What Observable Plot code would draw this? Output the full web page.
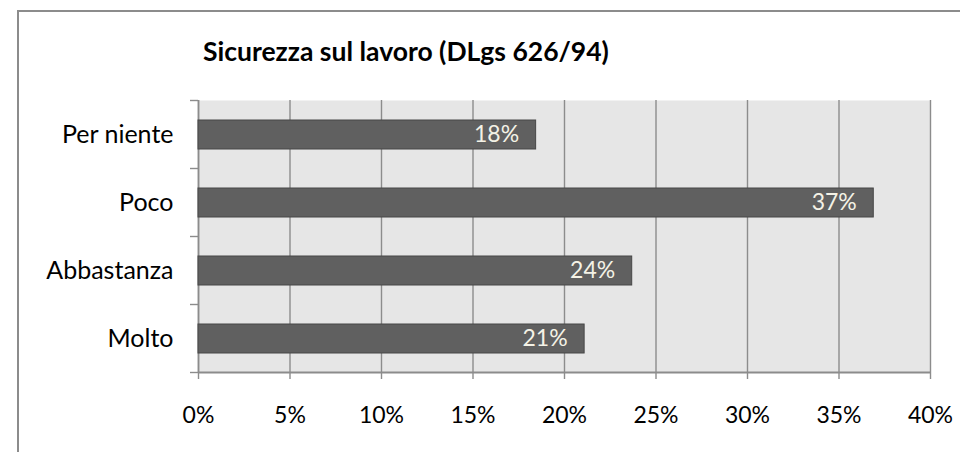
<!DOCTYPE html>
<html><head><meta charset="utf-8">
<script src="https://cdn.jsdelivr.net/npm/d3@7"></script>
<script src="https://cdn.jsdelivr.net/npm/@observablehq/plot@0.6"></script>
<style>
body{margin:0;background:#fff;}
#wrap{position:relative;width:960px;height:452px;overflow:hidden;font-family:Lato,"Open Sans",sans-serif;}
#border{position:absolute;left:17px;top:10px;width:1200px;height:1200px;border-left:2px solid #8c8c8c;border-top:2px solid #8c8c8c;}
#title{position:absolute;left:203px;top:36px;font-weight:bold;font-size:26.5px;line-height:1.2;color:#000;white-space:nowrap;}
#chart{position:absolute;left:0;top:0;}
</style></head>
<body>
<div id="wrap"><div id="border"></div><div id="title">Sicurezza sul lavoro (DLgs 626/94)</div><div id="chart"></div></div>
<script>
const categories = ["Per niente", "Poco", "Abbastanza", "Molto"];
const values = [18.45, 36.9, 23.7, 21.1];
const labels = ["18%", "37%", "24%", "21%"];
const xTicks = [0, 5, 10, 15, 20, 25, 30, 35, 40];

const data = categories.map((c, i) => ({cat: c, v: values[i], label: labels[i]}));
const gridColor = "#8c8c8c";

const plot = Plot.plot({
  width: 960,
  height: 452,
  marginLeft: 198,
  marginRight: 30,
  marginTop: 100,
  marginBottom: 80,
  style: {fontFamily: "Lato, 'Open Sans', sans-serif", fontSize: "23px", background: "transparent", color: "#000"},
  x: {domain: [0, 40], ticks: xTicks, tickFormat: d => d + "%", label: null},
  y: {domain: categories, paddingInner: 0.58, paddingOuter: 0.29, label: null},
  marks: [
    Plot.frame({fill: "#e6e6e6", stroke: null}),
    Plot.gridX(xTicks, {stroke: gridColor, strokeOpacity: 1, strokeWidth: 1.4}),
    Plot.ruleX([0], {stroke: gridColor, strokeWidth: 1.6}),
    Plot.barX(data, {y: "cat", x: "v", fill: "#606060", stroke: "#474747", strokeWidth: 1}),
    Plot.text(data, {y: "cat", x: "v", text: "label", textAnchor: "end", dx: -17, fill: "#f4f2e6", fontSize: 23}),
    Plot.axisX({ticks: xTicks, tickFormat: d => d + "%", tickSize: 7, tickPadding: 27, stroke: gridColor, strokeWidth: 1.4, fill: "#000", fontSize: 23, label: null}),
    Plot.axisY({tickSize: 0, tickPadding: 25, fill: "#000", fontSize: 25, label: null})
  ]
});
document.getElementById("chart").appendChild(plot);

// axis decorations at band boundaries and baseline, using the plot's scales
const ys = plot.scale("y");
const xs = plot.scale("x");
const svg = d3.select(plot);
const boundaries = d3.range(categories.length + 1).map(i => ys.apply(categories[0]) - (ys.step - ys.bandwidth) / 2 + i * ys.step);
const x0 = xs.apply(0), x1 = xs.apply(40);
const g = svg.append("g").attr("stroke", gridColor).attr("stroke-width", 1.4);
g.selectAll("line.yt").data(boundaries).join("line")
  .attr("x1", x0 - 8).attr("x2", x0).attr("y1", d => d).attr("y2", d => d);
g.append("line").attr("x1", x0).attr("x2", x1)
  .attr("y1", boundaries[boundaries.length - 1]).attr("y2", boundaries[boundaries.length - 1]).attr("stroke-width", 2);
</script>
</body></html>
